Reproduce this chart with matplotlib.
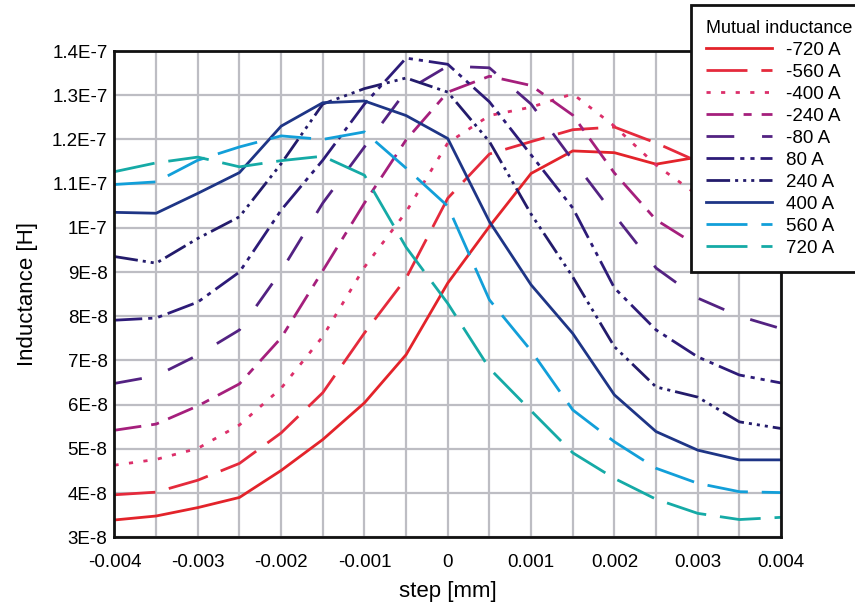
import matplotlib
matplotlib.use("Agg")
import matplotlib.pyplot as plt
import numpy as np

plt.rcParams["font.family"] = ["Liberation Sans", "DejaVu Sans"]
plt.rcParams["lines.scale_dashes"] = False

# step positions [mm]
step = [-0.004, -0.0035, -0.003, -0.0025, -0.002, -0.0015, -0.001, -0.0005, 0.0,
        0.0005, 0.001, 0.0015, 0.002, 0.0025, 0.003, 0.0035, 0.004]

# inductance per mutual current, in units of 1E-8 H
ind_m720 = [3.39, 3.48, 3.67, 3.90, 4.51, 5.21, 6.04, 7.13, 8.75, 10.03, 11.23, 11.74, 11.70, 11.44, 11.60, 11.45, 11.27]
ind_m560 = [3.96, 4.02, 4.29, 4.67, 5.36, 6.27, 7.62, 8.86, 10.67, 11.67, 11.95, 12.22, 12.28, 11.92, 11.50, 11.04, 10.98]
ind_m400 = [4.63, 4.76, 5.01, 5.54, 6.37, 7.54, 9.11, 10.36, 11.92, 12.54, 12.73, 13.03, 12.30, 11.42, 10.74, 10.40, 10.35]
ind_m240 = [5.42, 5.56, 5.97, 6.47, 7.51, 9.03, 10.56, 11.99, 13.07, 13.43, 13.22, 12.55, 11.24, 10.18, 9.59, 9.40, 9.30]
ind_m80 = [6.48, 6.65, 7.12, 7.69, 9.02, 10.56, 11.83, 13.10, 13.66, 13.62, 12.80, 11.53, 10.29, 9.09, 8.41, 8.00, 7.72]
ind_p80 = [7.91, 7.96, 8.32, 9.00, 10.40, 11.53, 12.80, 13.84, 13.70, 12.85, 11.65, 10.45, 8.64, 7.69, 7.08, 6.67, 6.49]
ind_p240 = [9.35, 9.20, 9.76, 10.25, 11.45, 12.80, 13.15, 13.39, 13.07, 11.95, 10.31, 8.89, 7.31, 6.40, 6.17, 5.61, 5.46]
ind_p400 = [10.35, 10.33, 10.78, 11.25, 12.30, 12.83, 12.87, 12.54, 12.02, 10.14, 8.71, 7.61, 6.22, 5.39, 4.97, 4.75, 4.75]
ind_p560 = [10.98, 11.04, 11.53, 11.83, 12.08, 12.00, 12.17, 11.35, 10.49, 8.37, 7.22, 5.88, 5.16, 4.56, 4.22, 4.03, 4.01]
ind_p720 = [11.27, 11.47, 11.60, 11.38, 11.52, 11.62, 11.19, 9.56, 8.29, 6.82, 5.86, 4.91, 4.33, 3.86, 3.54, 3.40, 3.45]

labels = ["-720 A", "-560 A", "-400 A", "-240 A", "-80 A", "80 A", "240 A", "400 A", "560 A", "720 A"]
series = [ind_m720, ind_m560, ind_m400, ind_m240, ind_m80, ind_p80, ind_p240, ind_p400, ind_p560, ind_p720]

y_ticks = [3e-8, 4e-8, 5e-8, 6e-8, 7e-8, 8e-8, 9e-8, 1e-7, 1.1e-7, 1.2e-7, 1.3e-7, 1.4e-7]
y_ticklabels = ["3E-8", "4E-8", "5E-8", "6E-8", "7E-8", "8E-8", "9E-8", "1E-7",
                "1.1E-7", "1.2E-7", "1.3E-7", "1.4E-7"]
x_ticks = [-0.004, -0.003, -0.002, -0.001, 0, 0.001, 0.002, 0.003, 0.004]
x_ticklabels = ["-0.004", "-0.003", "-0.002", "-0.001", "0", "0.001", "0.002", "0.003", "0.004"]

colors = ["#e3232a", "#e52a3c", "#dc2f6a", "#a51f7c", "#532282",
          "#2d1b78", "#231b6b", "#1e3586", "#129fd9", "#15aaa6"]
styles = [
    "-",
    (0, (29.5, 10)),
    (0, (3, 7.5)),
    (0, (19.5, 7.2, 5.8, 7.2)),
    (0, (20, 20)),
    (0, (20, 4.3, 3, 4.3, 3, 4.3)),
    (0, (17, 3.6, 2.2, 3.6, 2.2, 3.6, 2.2, 3.6)),
    "-",
    (0, (29.5, 10)),
    (0, (29.5, 10)),
]

fig = plt.figure(figsize=(8.55, 6.06), dpi=100)
ax = fig.add_axes([0.1339, 0.1135, 0.7796, 0.8023])

for vals, lab, c, ls in zip(series, labels, colors, styles):
    ax.plot(step, np.array(vals) * 1e-8, color=c, linestyle=ls, lw=2.0, label=lab)

ax.set_xlim(-0.004, 0.004)
ax.set_ylim(3e-8, 1.4e-7)
ax.set_xticks(x_ticks)
ax.set_xticklabels(x_ticklabels)
ax.set_yticks(y_ticks)
ax.set_yticklabels(y_ticklabels)
ax.set_xticks(np.arange(-0.004, 0.00401, 0.0005), minor=True)
ax.grid(True, which="both", color="#bdbdc3", lw=1.6)
ax.set_axisbelow(True)
ax.tick_params(which="both", length=0, labelsize=13.5)
ax.tick_params(axis="x", pad=12)
ax.tick_params(axis="y", pad=5)
for s in ax.spines.values():
    s.set_linewidth(2.0)
    s.set_color("#111111")
    s.set_zorder(5)

ax.set_xlabel("step [mm]", fontsize=16, labelpad=7)
ax.set_ylabel("Inductance [H]", fontsize=16, labelpad=10)

leg = fig.legend(loc="upper left", bbox_to_anchor=(691 / 855, 1 - 5 / 606),
                 title="Mutual inductance", fontsize=13.5, title_fontsize=13,
                 frameon=True, fancybox=False, framealpha=1, edgecolor="#111111",
                 handlelength=3.5, handletextpad=0.75, labelspacing=0.26,
                 borderpad=0.8, borderaxespad=0, alignment="left")
leg.get_frame().set_linewidth(2.0)

fig.savefig("out.png", dpi=100)
